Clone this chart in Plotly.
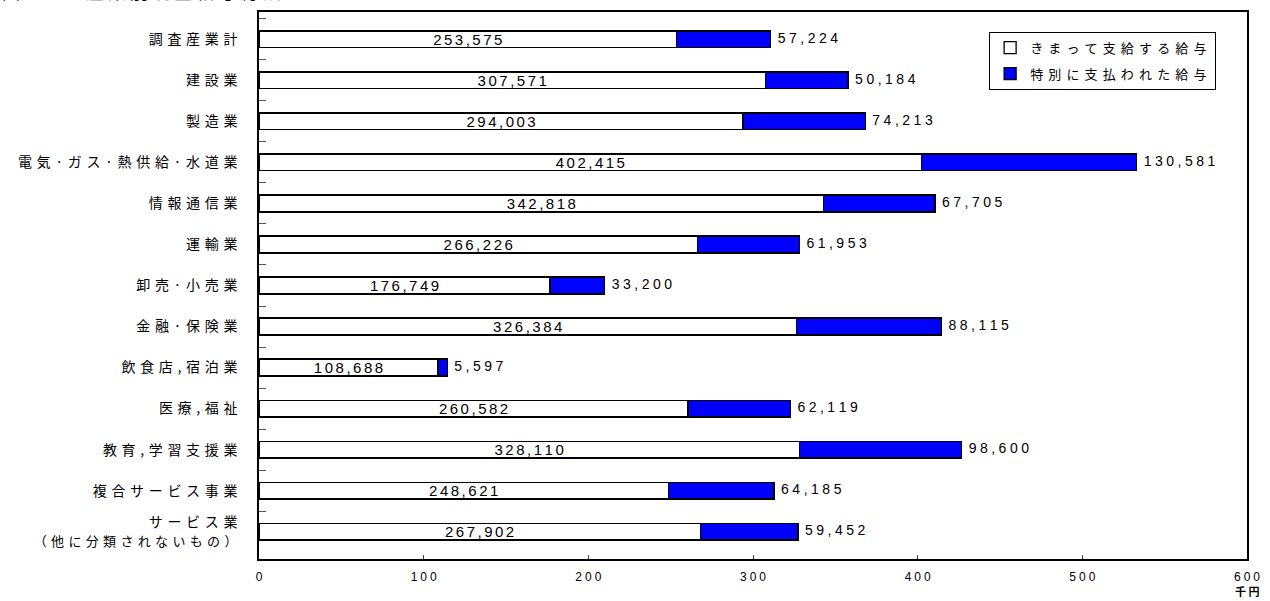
import plotly.graph_objects as go

categories = ["調査産業計", "建設業", "製造業", "電気·ガス·熱供給·水道業", "情報通信業", "運輸業",
              "卸売·小売業", "金融·保険業", "飲食店,宿泊業", "医療,福祉", "教育,学習支援業",
              "複合サービス事業", "サービス業|（他に分類されないもの）"]
regular_pay = [253575, 307571, 294003, 402415, 342818, 266226, 176749, 326384, 108688, 260582, 328110, 248621, 267902]
special_pay = [57224, 50184, 74213, 130581, 67705, 61953, 33200, 88115, 5597, 62119, 98600, 64185, 59452]
tick_vals = [0, 100, 200, 300, 400, 500, 600]
series_names = ["きまって支給する給与", "特別に支払われた給与"]

HS = "\u200a"
JS = "\u2004"


def spaced(s, sep=HS + HS):
    return sep.join(list(s))


def jp(s):
    parts = s.split("|")
    out = [JS.join(list(parts[0]))]
    for p in parts[1:]:
        out.append("<span style='font-size:13px'>" + JS.join(list(p)) + "</span>")
    return "<br>".join(out)


ylabels = [jp(c) for c in categories]
reg_k = [v / 1000 for v in regular_pay]
spe_k = [v / 1000 for v in special_pay]
tot_k = [a + b for a, b in zip(reg_k, spe_k)]

fig = go.Figure()
fig.add_trace(go.Bar(
    y=ylabels, x=reg_k, orientation="h", name=(JS + HS).join(series_names[0]) + " ",
    legendgroup="a",
    marker=dict(color="white", line=dict(color="black", width=1.3)),
    text=[spaced(f"{v:,}") for v in regular_pay], textposition="inside",
    insidetextanchor="middle", textangle=0, constraintext="none",
    textfont=dict(family="Liberation Sans", size=15, color="black"),
))
fig.add_trace(go.Bar(
    y=ylabels, x=spe_k, orientation="h", name=(JS + HS).join(series_names[1]) + " ",
    legendgroup="b",
    marker=dict(color="#0000FF", line=dict(color="black", width=1.3)),
))
fig.add_trace(go.Scatter(
    y=ylabels, x=tot_k, mode="text", showlegend=False,
    text=["\u2002" + spaced(f"{v:,}", HS + HS + HS) for v in special_pay], textposition="middle right",
    textfont=dict(family="Liberation Sans", size=14, color="black"),
    cliponaxis=False,
))

fig.update_layout(
    width=1270, height=601,
    barmode="stack", bargap=0.59,
    plot_bgcolor="white", paper_bgcolor="white",
    margin=dict(l=259, r=22, t=10, b=42),
    font=dict(family="Noto Sans CJK JP, Liberation Sans", size=14, color="black"),
    legend=dict(
        x=0.739, y=0.964, xanchor="left", yanchor="top",
        bordercolor="black", borderwidth=1, bgcolor="white",
        font=dict(family="Noto Sans CJK JP", size=13),
        traceorder="grouped", itemwidth=30, tracegroupgap=6,
    ),
    xaxis=dict(
        range=[0, 600], tickvals=tick_vals,
        ticktext=[spaced(str(v), HS + HS + HS) for v in tick_vals],
        ticks="inside", ticklen=4, tickcolor="#444",
        showgrid=False, zeroline=False, ticklabelstandoff=6,
        showline=True, linecolor="black", linewidth=1.5, mirror=True,
        tickfont=dict(family="Liberation Sans", size=12),
    ),
    yaxis=dict(
        autorange="reversed", type="category",
        ticks="inside", tickson="boundaries", ticklen=7, tickcolor="#555",
        showline=True, linecolor="black", linewidth=1.5, mirror=True,
        showgrid=False, ticklabelstandoff=17,
        tickfont=dict(family="Noto Sans CJK JP", size=14),
    ),
    annotations=[
        dict(xref="paper", yref="paper", x=1.0, y=0, xanchor="center", yanchor="top",
             yshift=-22, xshift=0, text="<b>千 円</b>", showarrow=False,
             font=dict(family="Noto Sans CJK JP", size=11)),
        dict(xref="paper", yref="paper", x=-0.262, y=1, xanchor="left", yanchor="bottom",
             yshift=6, text="図 ２ 　　 産 業 別 現 金 給 与 総 額", showarrow=False,
             font=dict(family="Noto Sans CJK JP", size=18)),
    ],
)

fig.write_html("out.html")
